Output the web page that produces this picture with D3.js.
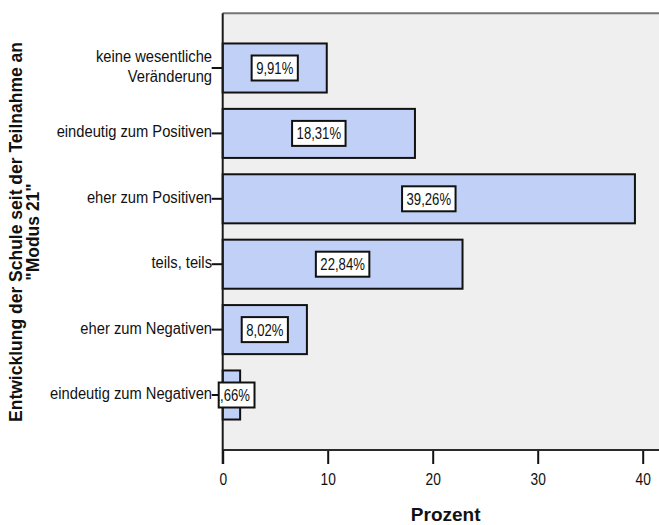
<!DOCTYPE html>
<html>
<head>
<meta charset="utf-8">
<script src="https://cdn.jsdelivr.net/npm/d3@7"></script>
<style>
  html, body { margin: 0; padding: 0; background: #ffffff; }
  svg { display: block; font-family: "Liberation Sans", Arial, sans-serif; }
</style>
</head>
<body>
<svg id="chart" width="659" height="525"></svg>
<script>
// Answer categories (top to bottom) and their share in percent
const categories = [
  "keine wesentliche\nVeränderung",
  "eindeutig zum Positiven",
  "eher zum Positiven",
  "teils, teils",
  "eher zum Negativen",
  "eindeutig zum Negativen"
];
const percents = [9.91, 18.31, 39.26, 22.84, 8.02, 1.66];
const xTicks = [0, 10, 20, 30, 40];
const yTitleLines = ["Entwicklung der Schule seit der Teilnahme an", "\"Modus 21\""];
const xTitle = "Prozent";

const W = 659, H = 525;
const plot = { left: 222.7, top: 13.3, right: W, bottom: 450 };

const svg = d3.select("#chart");

const x = d3.scaleLinear().domain([0, 40]).range([plot.left, 642.7]);
const y = d3.scaleBand()
  .domain(categories)
  .range([35.3, 427.7])
  .paddingInner(0.25)
  .paddingOuter(0.125);

const de = d3.formatLocale({ decimal: ",", thousands: ".", grouping: [3], currency: ["", " €"] });
const fmt = v => de.format(".2f")(v) + "%";

// plot background
svg.append("rect")
  .attr("x", plot.left).attr("y", plot.top)
  .attr("width", plot.right - plot.left).attr("height", plot.bottom - plot.top)
  .attr("fill", "#efefef");

// top frame line
svg.append("line")
  .attr("x1", plot.left).attr("x2", plot.right)
  .attr("y1", plot.top).attr("y2", plot.top)
  .attr("stroke", "#747474").attr("stroke-width", 2);

const rows = categories.map((c, i) => ({ cat: c, val: percents[i] }));

// bars
svg.append("g").selectAll("rect").data(rows).join("rect")
  .attr("x", x(0))
  .attr("y", d => y(d.cat))
  .attr("width", d => x(d.val) - x(0))
  .attr("height", y.bandwidth())
  .attr("fill", "#c1d0f6")
  .attr("stroke", "#111")
  .attr("stroke-width", 2);

// x axis
const xAxis = svg.append("g")
  .attr("transform", `translate(0,${plot.bottom})`)
  .call(d3.axisBottom(x).tickValues(xTicks).tickSize(14).tickPadding(6).tickFormat(d3.format("d")));
xAxis.select(".domain").remove();
xAxis.selectAll(".tick line").attr("stroke", "#111").attr("stroke-width", 2);
xAxis.selectAll(".tick text")
  .attr("fill", "#111")
  .attr("font-size", 16)
  .attr("font-family", "Liberation Sans, Arial, sans-serif")
  .attr("transform", "scale(0.86,1)")
  .attr("dy", "0.95em");
svg.append("line")
  .attr("x1", plot.left).attr("x2", plot.right)
  .attr("y1", plot.bottom).attr("y2", plot.bottom)
  .attr("stroke", "#2a2a2a").attr("stroke-width", 2);

// y axis
const yAxis = svg.append("g")
  .attr("transform", `translate(${plot.left},0)`)
  .call(d3.axisLeft(y).tickSize(11).tickFormat(""));
yAxis.select(".domain").remove();
yAxis.selectAll(".tick line").attr("stroke", "#111").attr("stroke-width", 2);
svg.append("line")
  .attr("x1", plot.left).attr("x2", plot.left)
  .attr("y1", plot.top).attr("y2", plot.bottom + 14)
  .attr("stroke", "#1a1a1a").attr("stroke-width", 2);

// category labels (right aligned, possibly two lines)
const catG = svg.append("g");
rows.forEach(d => {
  const lines = d.cat.split("\n");
  const cy = y(d.cat) + y.bandwidth() / 2;
  const lh = 20;
  const first = cy + 6 - (lines.length - 1) * lh / 2 - 2;
  lines.forEach((ln, k) => {
    catG.append("g")
      .attr("transform", `translate(212,${first + k * lh}) scale(0.92,1)`)
      .append("text")
      .attr("text-anchor", "end")
      .attr("font-size", 16)
      .attr("fill", "#111")
      .text(ln);
  });
});

// value labels in white boxes; a box never reaches further left than the axis
const defs = svg.append("defs");
const labG = svg.append("g");
const sx = 0.82, boxH = 25, pad = 4.5;
rows.forEach((d, i) => {
  const cx = (x(0) + x(d.val)) / 2;
  const cy = y(d.cat) + y.bandwidth() / 2;
  const g = labG.append("g");
  const box = g.append("rect");
  const clipId = "lab" + i;
  const inner = g.append("g").attr("clip-path", `url(#${clipId})`);
  const holder = inner.append("g").attr("transform", `translate(${cx},${cy + 6}) scale(${sx},1)`);
  const t = holder.append("text")
    .attr("font-size", 16)
    .attr("fill", "#111")
    .attr("text-anchor", "middle")
    .text(fmt(d.val));
  const tw = t.node().getComputedTextLength() * sx;
  const bw = tw + 2 * pad;
  const left = Math.max(cx - bw / 2, plot.left - 4);
  const right = cx + bw / 2;
  defs.append("clipPath").attr("id", clipId)
    .append("rect")
    .attr("x", left).attr("y", cy - boxH / 2)
    .attr("width", right - left).attr("height", boxH);
  box.attr("x", left).attr("y", cy - boxH / 2)
    .attr("width", right - left).attr("height", boxH)
    .attr("fill", "#ffffff").attr("stroke", "#111").attr("stroke-width", 2);
});

// axis titles
svg.append("text")
  .attr("x", (plot.left + 642.7) / 2 + 13).attr("y", 521)
  .attr("text-anchor", "middle")
  .attr("font-size", 19).attr("font-weight", "bold")
  .attr("fill", "#111")
  .text(xTitle);

const yt = svg.append("g").attr("transform", "translate(0,232) rotate(-90)");
yTitleLines.forEach((ln, k) => {
  yt.append("text")
    .attr("x", 0).attr("y", 22 + k * 17)
    .attr("text-anchor", "middle")
    .attr("font-size", 17.5).attr("font-weight", "bold")
    .attr("fill", "#111")
    .text(ln);
});
</script>
</body>
</html>
